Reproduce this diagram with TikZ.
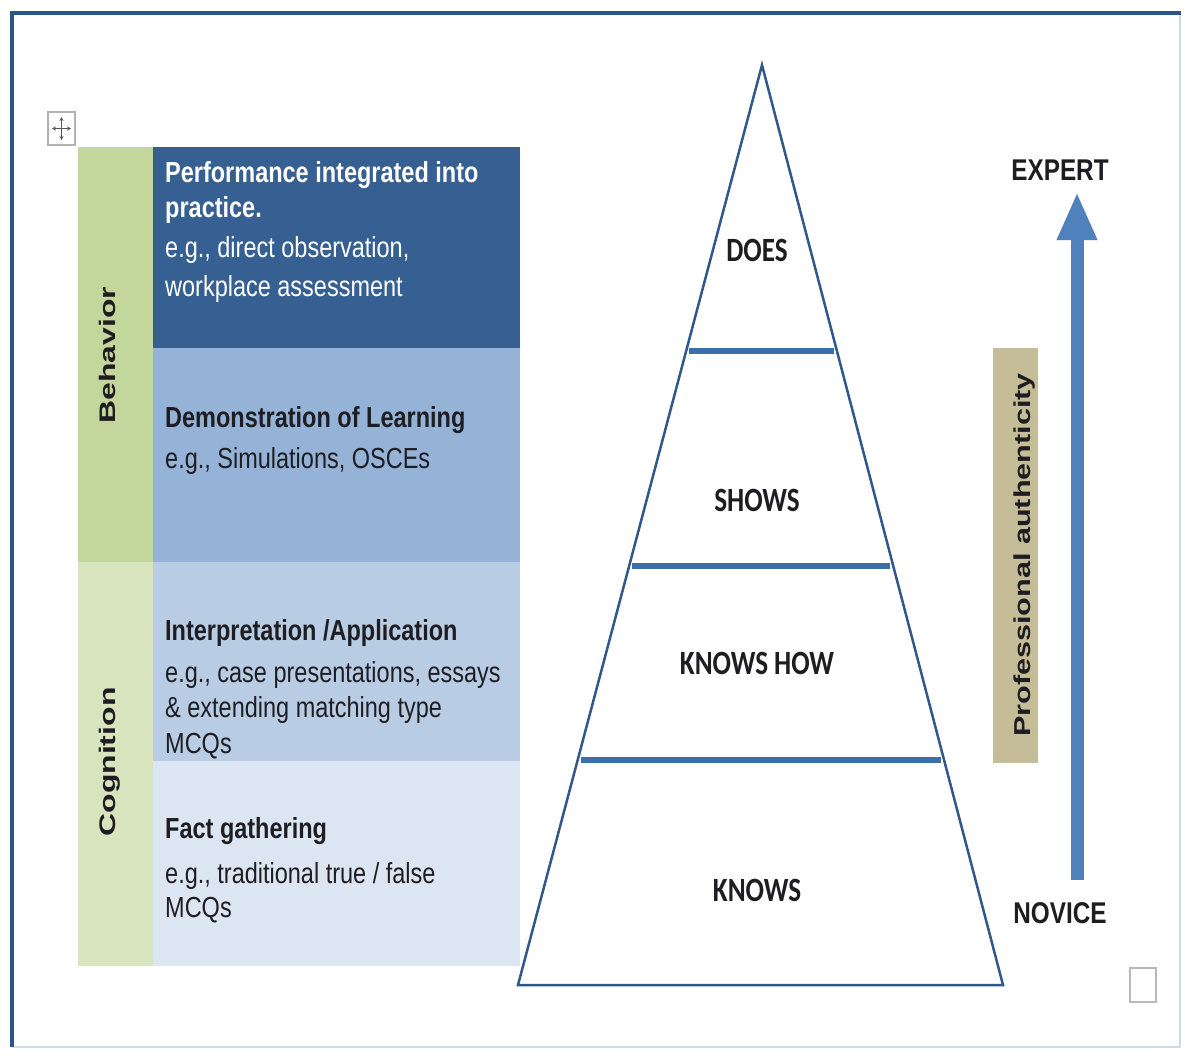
\documentclass[tikz,border=0pt]{standalone}
\usepackage{fontspec}
\setmainfont{Liberation Sans}
\newfontfamily\narrowsf[FakeStretch=0.81]{Liberation Sans}
\newfontfamily\pyramidsf[FakeStretch=0.8]{Carlito}
\newfontfamily\tallsf[FakeStretch=1.42]{Liberation Sans}
\newfontfamily\authsf[FakeStretch=1.33]{Liberation Sans}
\usetikzlibrary{arrows.meta,calc}

\definecolor{framedark}{RGB}{44,84,132}
\definecolor{framelight}{RGB}{205,218,236}
\definecolor{perfblue}{RGB}{54,95,146}
\definecolor{demoblue}{RGB}{149,179,215}
\definecolor{interpblue}{RGB}{184,204,228}
\definecolor{factblue}{RGB}{220,230,242}
\definecolor{behgreen}{RGB}{195,214,155}
\definecolor{coggreen}{RGB}{215,228,189}
\definecolor{authtan}{RGB}{196,189,151}
\definecolor{arrowblue}{RGB}{79,129,189}
\definecolor{edgeblue}{RGB}{48,88,138}
\definecolor{dividerblue}{RGB}{60,110,170}
\definecolor{inkdark}{RGB}{30,30,34}

\begin{document}
\begin{tikzpicture}[x=1pt,y=-1pt,>=Stealth,
    boxhead/.style={anchor=north west,inner sep=0pt,align=left,text=inkdark,
      font=\narrowsf\bfseries\fontsize{29}{35}\selectfont},
    boxbody/.style={anchor=north west,inner sep=0pt,align=left,text=inkdark,
      font=\narrowsf\fontsize{29}{36}\selectfont},
    sidelabel/.style={rotate=90,anchor=base,inner sep=0pt,text=inkdark,
      font=\tallsf\bfseries\fontsize{22.5}{22.5}\selectfont},
    tier/.style={inner sep=0pt,text=inkdark,
      font=\pyramidsf\bfseries\fontsize{34}{34}\selectfont},
    level/.style={inner sep=0pt,text=inkdark,
      font=\narrowsf\bfseries\fontsize{30}{30}\selectfont},
    divider/.style={draw=dividerblue,line width=6pt,shorten <=3pt,shorten >=3pt}]

  \useasboundingbox (0,0) rectangle (1185,1055);
  \fill[white] (0,0) rectangle (1185,1055);

  % frame
  \draw[framelight,line width=2pt] (1180,13) -- (1180,1047) -- (12,1047);
  \draw[framedark,line width=4pt] (12,1047) -- (12,13) -- (1181,13);

  % move handle and end mark
  \draw[gray!60,line width=1.2pt] (48,112) rectangle (75,145);
  \draw[{Stealth[length=4pt,width=4pt]}-{Stealth[length=4pt,width=4pt]},gray!70!black,line width=0.8pt] (52,128.5) -- (71,128.5);
  \draw[{Stealth[length=4pt,width=4pt]}-{Stealth[length=4pt,width=4pt]},gray!70!black,line width=0.8pt] (61.5,117) -- (61.5,140);
  \draw[gray!55,line width=1.5pt] (1130,968) rectangle (1156,1002);

  % left columns
  \fill[behgreen] (78,147) rectangle (153,562);
  \fill[coggreen] (78,562) rectangle (153,966);
  \fill[perfblue] (153,147) rectangle (520,348);
  \fill[demoblue] (153,348) rectangle (520,562);
  \fill[interpblue] (153,562) rectangle (520,761);
  \fill[factblue] (153,761) rectangle (520,966);

  \node[sidelabel] (behavior) at (115,355) {Behavior};
  \node[sidelabel] (cognition) at (115,762) {Cognition};

  \node[boxhead,text=white] (perfhead) at (165,161) {Performance integrated into\\practice.};
  \node[boxbody,text=white,font=\narrowsf\fontsize{29}{39}\selectfont] (perfbody) at (165,236)
    {e.g., direct observation,\\workplace assessment};

  \node[boxhead] (demohead) at (165,406) {Demonstration of Learning};
  \node[boxbody] (demobody) at (165,447) {e.g., Simulations, OSCEs};

  \node[boxhead] (interphead) at (165,619) {Interpretation /Application};
  \node[boxbody,font=\narrowsf\fontsize{29}{35.5}\selectfont] (interpbody) at (165,661)
    {e.g., case presentations, essays\\\& extending matching type\\MCQs};

  \node[boxhead] (facthead) at (165,817) {Fact gathering};
  \node[boxbody,font=\narrowsf\fontsize{29}{34}\selectfont] (factbody) at (165,862)
    {e.g., traditional true / false\\MCQs};

  % pyramid
  \coordinate (apex) at (762,65);
  \coordinate (baseL) at (518,985);
  \coordinate (baseR) at (1003,985);
  \draw[edgeblue,line width=2.5pt,line join=miter] (baseL) -- (apex) -- (baseR) -- cycle;
  \draw[divider] ($(baseL)!0.689!(apex)$) -- ($(baseR)!0.689!(apex)$);
  \draw[divider] ($(baseL)!0.455!(apex)$) -- ($(baseR)!0.455!(apex)$);
  \draw[divider] ($(baseL)!0.2446!(apex)$) -- ($(baseR)!0.2446!(apex)$);

  \node[tier] (does) at (757,250) {DOES};
  \node[tier] (shows) at (757,500) {SHOWS};
  \node[tier] (knowshow) at (757,663) {KNOWS HOW};
  \node[tier] (knows) at (757,890) {KNOWS};

  % authenticity scale
  \fill[authtan] (993,348) rectangle (1038,763);
  \node[rotate=90,anchor=base,inner sep=0pt,text=inkdark,
    font=\authsf\bfseries\fontsize{23}{23}\selectfont] (authentic) at (1030,555) {Professional authenticity};

  \node[level] (expert) at (1060,170) {EXPERT};
  \node[level] (novice) at (1060,913) {NOVICE};
  \coordinate (arrtail) at (1077,880);
  \coordinate (arrtip) at (1077,192);
  \draw[arrowblue,line width=13pt,-{Triangle[width=37pt,length=48pt]}] (arrtail) -- (arrtip);
\end{tikzpicture}
\end{document}
